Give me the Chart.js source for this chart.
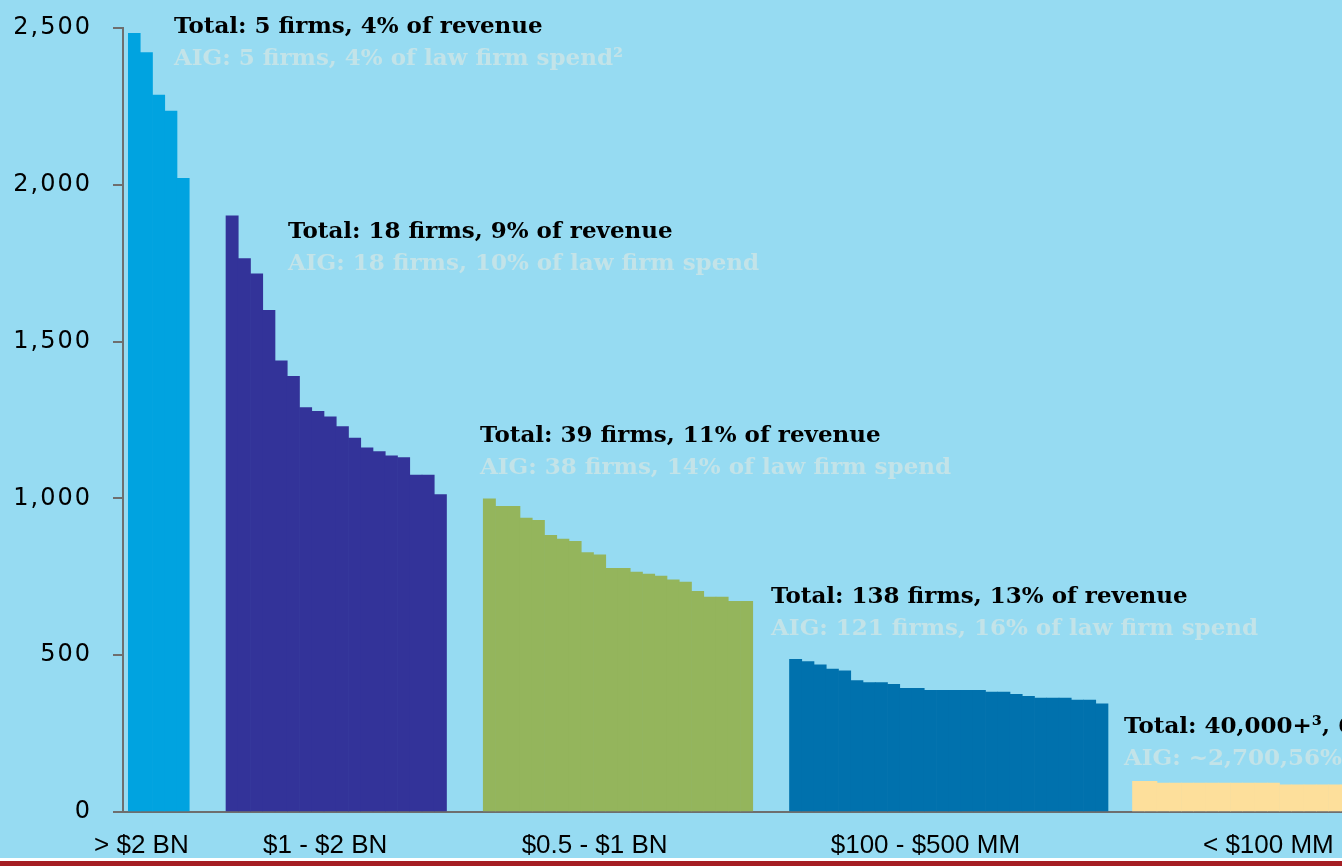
<!DOCTYPE html>
<html>
<head>
<meta charset="utf-8">
<script src="https://cdn.jsdelivr.net/npm/chart.js@4.4.1/dist/chart.umd.min.js"></script>
<style>
  html, body { margin: 0; padding: 0; background: #96dbf2; overflow: hidden; width: 1342px; height: 866px; }
  #wrap { position: absolute; left: 0; top: 0; width: 1440px; height: 858px; }
  #bandWhite { position: absolute; left: 0; top: 858px; width: 1342px; height: 3px; background: #ffffff; }
  #bandRed { position: absolute; left: 0; top: 861px; width: 1342px; height: 5px; background: #a51e23; }
</style>
</head>
<body>
<div id="wrap"><canvas id="c" width="1440" height="858"></canvas></div>
<div id="bandWhite"></div>
<div id="bandRed"></div>
<script>
// ---------------- DATA ----------------
const groupNames = ['> $2 BN', '$1 - $2 BN', '$0.5 - $1 BN', '$100 - $500 MM', '< $100 MM'];

const over2BN      = [2483, 2422, 2286, 2235, 2021];
const from1to2BN   = [1901, 1765, 1716, 1600, 1439, 1389, 1290, 1278, 1260, 1229, 1192, 1161, 1149, 1136, 1130, 1074, 1074, 1012];
const from05to1BN  = [999, 975, 975, 937, 930, 882, 870, 863, 827, 820, 777, 777, 765, 759, 752, 740, 733, 704, 685, 685, 672, 672];
const from100to500MM = [487, 480, 469, 456, 450, 419, 413, 413, 407, 394, 394, 388, 388, 388, 388, 388, 382, 382, 375, 369, 363, 363, 363, 357, 357, 345];
const under100MM   = [98, 98, 92, 92, 92, 92, 92, 92, 92, 92, 92, 92, 87, 87, 87, 87, 87, 87, 87, 87, 87, 87, 87, 87, 87];

const totalNotes = [
  'Total: 5 firms, 4% of revenue',
  'Total: 18 firms, 9% of revenue',
  'Total: 39 firms, 11% of revenue',
  'Total: 138 firms, 13% of revenue',
  'Total: 40,000+\u00B3, 63% of revenue'
];
const aigNotes = [
  'AIG: 5 firms, 4% of law firm spend\u00B2',
  'AIG: 18 firms, 10% of law firm spend',
  'AIG: 38 firms, 14% of law firm spend',
  'AIG: 121 firms, 16% of law firm spend',
  'AIG: ~2,700,56% of law firm spend'
];

const yTickValues = [0, 500, 1000, 1500, 2000, 2500];

// ---------------- LAYOUT (not data) ----------------
const groupSeries = [over2BN, from1to2BN, from05to1BN, from100to500MM, under100MM];
const groupColors = ['#00a3e0', '#333399', '#94b55c', '#0071ad', '#fddf9b'];
const gapSlots = [3, 3, 3, 2];            // empty slots between groups
const labelSlot = [1, 16, 38, 65, 93];    // slot where each group name sits
const noteSlot = [3.66, 12.97, 28.64, 52.4, 81.21];
const noteValue = [2483, 1831, 1181, 666, 251];

// Build slot layout
let startSlots = [];
let pos = 0;
groupSeries.forEach((s, i) => { startSlots.push(pos); pos += s.length + (i < gapSlots.length ? gapSlots[i] : 0); });
const totalSlots = pos;
const slotLabels = new Array(totalSlots).fill('');
labelSlot.forEach((s, i) => { slotLabels[s] = groupNames[i]; });

const datasets = groupSeries.map((series, gi) => {
  const d = new Array(totalSlots).fill(null);
  series.forEach((v, k) => { d[startSlots[gi] + k] = v; });
  return {
    label: groupNames[gi],
    data: d,
    backgroundColor: groupColors[gi],
    borderWidth: 0,
    grouped: false,
    barPercentage: 1,
    categoryPercentage: 1
  };
});

const AXIS = '#6e6e6e';

const shiftBars = {
  id: 'shiftBars',
  beforeDatasetsDraw(chart) { chart.ctx.save(); chart.ctx.translate(5, 0); },
  afterDatasetsDraw(chart) { chart.ctx.restore(); }
};

const spacedYLabels = {
  id: 'spacedYLabels',
  afterUpdate(chart) {
    const y = chart.scales.y;
    if (y && !y._spacedPatched) {
      const orig = y.drawLabels.bind(y);
      y.drawLabels = function (area) {
        const c = this.ctx;
        const prev = c.letterSpacing;
        c.letterSpacing = '2px';
        orig(area);
        c.letterSpacing = prev || '0px';
      };
      y._spacedPatched = true;
    }
  }
};

const notes = {
  id: 'notes',
  afterDatasetsDraw(chart) {
    const { ctx, scales: { x, y } } = chart;
    ctx.save();
    ctx.font = 'bold 23px "DejaVu Serif"';
    ctx.textBaseline = 'alphabetic';
    ctx.textAlign = 'left';
    totalNotes.forEach((t, i) => {
      const px = x.getPixelForValue(noteSlot[i]);
      const py = y.getPixelForValue(noteValue[i]);
      ctx.fillStyle = '#000000';
      ctx.fillText(t, px, py);
      ctx.fillStyle = '#c3e3e8';
      ctx.fillText(aigNotes[i], px, py + 32);
    });
    ctx.restore();
  }
};

new Chart(document.getElementById('c'), {
  type: 'bar',
  data: { labels: slotLabels, datasets },
  options: {
    responsive: false,
    animation: false,
    devicePixelRatio: 1,
    layout: { padding: { top: 28, right: 6.25, left: 0, bottom: 0 } },
    plugins: { legend: { display: false }, tooltip: { enabled: false }, title: { display: false } },
    scales: {
      x: {
        type: 'category',
        offset: true,
        grid: { display: false, drawTicks: false },
        border: { display: true, color: AXIS, width: 2 },
        ticks: {
          autoSkip: false, maxRotation: 0, minRotation: 0, padding: 18,
          color: '#000000', font: { family: 'Liberation Sans', size: 26 }
        },
        afterFit(s) { s.height = 46; s.paddingLeft = 0; s.paddingRight = 0; }
      },
      y: {
        min: 0, max: 2500,
        afterBuildTicks(s) { s.ticks = yTickValues.map(v => ({ value: v })); },
        grid: { drawOnChartArea: false, drawTicks: true, tickLength: 10, color: AXIS, lineWidth: 2 },
        border: { display: true, color: AXIS, width: 2 },
        ticks: {
          padding: 21, color: '#000000',
          font: { family: 'DejaVu Sans', size: 24 },
          callback: v => v.toLocaleString('en-US')
        },
        afterFit(s) { s.width = 123; s.paddingTop = 0; s.paddingBottom = 0; }
      }
    }
  },
  plugins: [shiftBars, spacedYLabels, notes]
});
</script>
</body>
</html>
